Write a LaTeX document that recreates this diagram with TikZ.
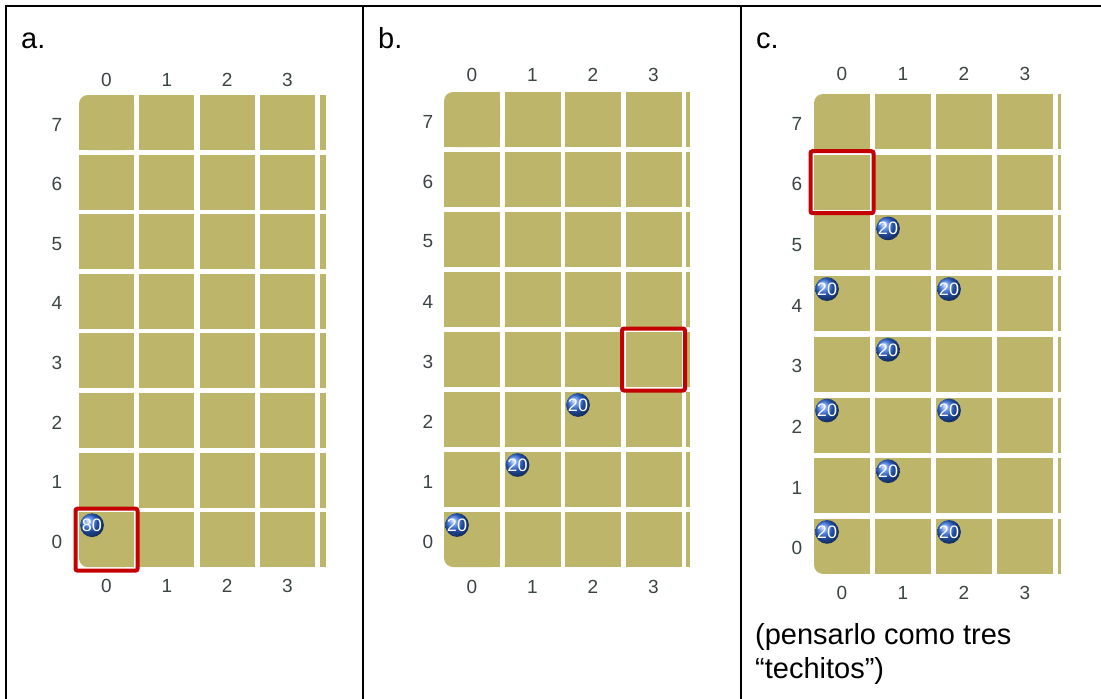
\documentclass[tikz,border=0pt]{standalone}
\usepackage{fontspec}
\setmainfont{Liberation Sans}
\definecolor{gridcol}{HTML}{BDB56A}
\definecolor{lblcol}{HTML}{3A4444}
\definecolor{pickred}{HTML}{C40000}
\definecolor{ballblue}{HTML}{2F6CE0}

% one board: 4 full columns and a sliver of a fifth, rows 7 (top) .. 0 (bottom)
% parameters are read from \gx \gy \gpx \gpy \gcw \gch \gpw \gtop \gbot \gleft
\newcommand\board[1]{%
  \foreach \c in {0,...,3}{%
    \foreach \r in {0,...,7}{%
      \pgfmathsetmacro\xl{\gx+\gpx*\c}%
      \pgfmathsetmacro\yt{\gy+\gpy*(7-\r)}%
      \pgfmathsetmacro\xm{\xl+\gcw/2}%
      \pgfmathsetmacro\ym{\yt+\gch/2}%
      \pgfmathsetmacro\xr{\xl+\gcw}%
      \pgfmathsetmacro\yb{\yt+\gch}%
      \ifnum\c=0
        \ifnum\r=7
          \fill[cell,rounded corners=9] (\xl,\yt) rectangle (\xr,\yb);
          \fill[cell] (\xm,\yt) rectangle (\xr,\yb);
          \fill[cell] (\xl,\ym) rectangle (\xr,\yb);
        \else\ifnum\r=0
          \fill[cell,rounded corners=9] (\xl,\yt) rectangle (\xr,\yb);
          \fill[cell] (\xm,\yt) rectangle (\xr,\yb);
          \fill[cell] (\xl,\yt) rectangle (\xr,\ym);
        \else
          \fill[cell] (\xl,\yt) rectangle (\xr,\yb);
        \fi\fi
      \else
        \fill[cell] (\xl,\yt) rectangle (\xr,\yb);
      \fi
    }%
    \pgfmathsetmacro\xc{\gx+\gpx*\c+\gcw/2}%
    \node[axislbl] (#1-top\c) at (\xc,\gtop) {\c};
    \node[axislbl] (#1-bot\c) at (\xc,\gbot) {\c};
  }%
  \foreach \r in {0,...,7}{%
    \pgfmathsetmacro\yt{\gy+\gpy*(7-\r)}%
    \pgfmathsetmacro\xs{\gx+\gpx*4}%
    \pgfmathsetmacro\yl{\yt+\gch/2+2}%
    \fill[cell] (\xs,\yt) rectangle ++(\gpw,\gch);
    \node[axislbl] (#1-row\r) at (\gleft,\yl) {\r};
  }%
}
% highlighted square around cell (column, row)
\newcommand\pick[2]{%
  \pgfmathsetmacro\px{\gx+\gpx*#1-3.5}%
  \pgfmathsetmacro\py{\gy+\gpy*(7-#2)-3.5}%
  \pgfmathsetmacro\pw{\gcw+7}%
  \pgfmathsetmacro\ph{\gch+7}%
  \draw[picked] (\px,\py) rectangle ++(\pw,\ph);
}
% a numbered piece in the upper left of cell (column, row)
\newcommand\piece[4]{%
  \pgfmathsetmacro\px{\gx+\gpx*#2+13}%
  \pgfmathsetmacro\py{\gy+\gpy*(7-#3)+13}%
  \node[ballnode] (#1) at (\px,\py) {#4};
}

\begin{document}
\begin{tikzpicture}[x=1pt,y=-1pt,
  cell/.style={fill=gridcol},
  axislbl/.style={text=lblcol,font=\fontsize{19}{20}\selectfont,inner sep=0},
  ballnode/.style={circle,shading=ball,ball color=ballblue,minimum size=23,
    inner sep=0,text=white,font=\fontsize{18}{18}\selectfont},
  picked/.style={draw=pickred,line width=4,rounded corners=2},
  paneltitle/.style={anchor=base west,font=\fontsize{29}{34}\selectfont,inner sep=0},
  tableline/.style={line width=2}]
\useasboundingbox (0,0) rectangle (1101,699);
\fill[white] (0,0) rectangle (1101,699);

% table rules
\draw[tableline] (6,699) -- (6,6) -- (1101,6);
\draw[tableline] (363,6) -- (363,699);
\draw[tableline] (741,6) -- (741,699);

% panel titles
\node[paneltitle] (ta) at (21,48) {a.};
\node[paneltitle] (tb) at (378,48) {b.};
\node[paneltitle] (tc) at (756,48) {c.};

% ---- board a
\begin{scope}
\def\gx{79}\def\gy{95}\def\gpx{60.3}\def\gpy{59.6}\def\gcw{55}\def\gch{55}
\def\gpw{6}\def\gtop{80}\def\gbot{586}\def\gleft{57}
\board{a}
\piece{a-p00}{0}{0}{80}
\pick{0}{0}
\end{scope}

% ---- board b
\begin{scope}
\def\gx{444}\def\gy{92}\def\gpx{60.5}\def\gpy{60}\def\gcw{56}\def\gch{55}
\def\gpw{4}\def\gtop{75}\def\gbot{587}\def\gleft{428}
\board{b}
\piece{b-p00}{0}{0}{20}
\piece{b-p11}{1}{1}{20}
\piece{b-p22}{2}{2}{20}
\pick{3}{3}
\end{scope}

% ---- board c
\begin{scope}
\def\gx{814}\def\gy{94}\def\gpx{61}\def\gpy{60.7}\def\gcw{56}\def\gch{55}
\def\gpw{3}\def\gtop{74}\def\gbot{593}\def\gleft{797}
\board{c}
\piece{c-p15}{1}{5}{20}
\piece{c-p04}{0}{4}{20}
\piece{c-p24}{2}{4}{20}
\piece{c-p13}{1}{3}{20}
\piece{c-p02}{0}{2}{20}
\piece{c-p22}{2}{2}{20}
\piece{c-p11}{1}{1}{20}
\piece{c-p00}{0}{0}{20}
\piece{c-p20}{2}{0}{20}
\pick{0}{6}
\end{scope}

% note under board c
\node[paneltitle] (note1) at (755,644) {(pensarlo como tres};
\node[paneltitle] (note2) at (755,678) {“techitos”)};
\end{tikzpicture}
\end{document}
